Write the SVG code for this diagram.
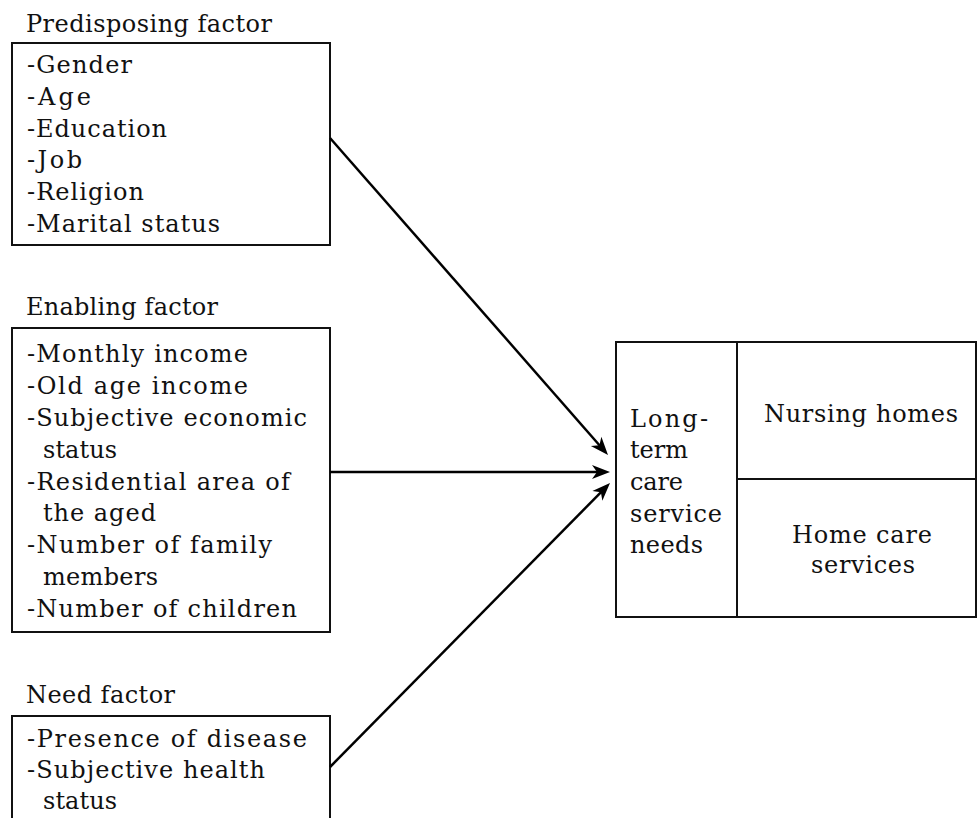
<svg xmlns="http://www.w3.org/2000/svg" width="977" height="818" viewBox="0 0 977 818">
<style>
  text { font-family: "DejaVu Serif", "Liberation Serif", serif; font-size: 24px; fill: #111; }
  .box { fill: #fff; stroke: #111; stroke-width: 2; }
  .div { stroke: #111; stroke-width: 2; fill: none; }
  .conn { stroke: #000; stroke-width: 2.5; fill: none; marker-end: url(#arr); }
</style>
<defs>
  <marker id="arr" markerUnits="userSpaceOnUse" markerWidth="22" markerHeight="16" refX="13" refY="7" orient="auto" overflow="visible">
    <path d="M0,0 L18,7 L0,14 L5,7 Z" fill="#000"/>
  </marker>
</defs>
<rect width="977" height="818" fill="#fff"/>

<g id="predisposing">
  <text x="26" y="32" textLength="246" lengthAdjust="spacing">Predisposing factor</text>
  <rect class="box" x="12" y="43" width="318" height="202"/>
  <text x="27" y="73" textLength="105" lengthAdjust="spacing">-Gender</text>
  <text x="27" y="105" textLength="64" lengthAdjust="spacing">-Age</text>
  <text x="27" y="137" textLength="140" lengthAdjust="spacing">-Education</text>
  <text x="27" y="168" textLength="55" lengthAdjust="spacing">-Job</text>
  <text x="27" y="200" textLength="117" lengthAdjust="spacing">-Religion</text>
  <text x="27" y="232" textLength="193" lengthAdjust="spacing">-Marital status</text>
</g>

<g id="enabling">
  <text x="26" y="315" textLength="192" lengthAdjust="spacing">Enabling factor</text>
  <rect class="box" x="12" y="328" width="318" height="304"/>
  <text x="27" y="362" textLength="221" lengthAdjust="spacing">-Monthly income</text>
  <text x="27" y="394" textLength="221" lengthAdjust="spacing">-Old age income</text>
  <text x="27" y="426" textLength="280" lengthAdjust="spacing">-Subjective economic</text>
  <text x="43" y="458" textLength="74" lengthAdjust="spacing">status</text>
  <text x="27" y="490" textLength="263" lengthAdjust="spacing">-Residential area of</text>
  <text x="43" y="521" textLength="113" lengthAdjust="spacing">the aged</text>
  <text x="27" y="553" textLength="245" lengthAdjust="spacing">-Number of family</text>
  <text x="43" y="585" textLength="115" lengthAdjust="spacing">members</text>
  <text x="27" y="617" textLength="270" lengthAdjust="spacing">-Number of children</text>
</g>

<g id="need">
  <text x="26" y="703" textLength="149" lengthAdjust="spacing">Need factor</text>
  <rect class="box" x="12" y="716" width="318" height="130"/>
  <text x="27" y="747" textLength="280" lengthAdjust="spacing">-Presence of disease</text>
  <text x="27" y="778" textLength="238" lengthAdjust="spacing">-Subjective health</text>
  <text x="43" y="809" textLength="74" lengthAdjust="spacing">status</text>
</g>

<g id="ltc-needs">
  <rect class="box" x="616" y="342" width="360" height="275"/>
  <line class="div" x1="737" y1="342" x2="737" y2="617"/>
  <line class="div" x1="737" y1="479" x2="976" y2="479"/>
  <text x="630" y="427" textLength="78" lengthAdjust="spacing">Long-</text>
  <text x="630" y="458" textLength="58" lengthAdjust="spacing">term</text>
  <text x="630" y="490" textLength="53" lengthAdjust="spacing">care</text>
  <text x="630" y="522" textLength="92" lengthAdjust="spacing">service</text>
  <text x="630" y="553" textLength="73" lengthAdjust="spacing">needs</text>
</g>

<g id="nursing-homes">
  <text x="861" y="422" text-anchor="middle" textLength="194" lengthAdjust="spacing">Nursing homes</text>
</g>

<g id="home-care">
  <text x="862" y="543" text-anchor="middle" textLength="140" lengthAdjust="spacing">Home care</text>
  <text x="863" y="573" text-anchor="middle" textLength="104" lengthAdjust="spacing">services</text>
</g>

<g id="connectors">
  <line class="conn" x1="330" y1="138" x2="604.7" y2="451.2"/>
  <line class="conn" x1="330" y1="472" x2="605" y2="472"/>
  <line class="conn" x1="330" y1="767" x2="606.5" y2="486.6"/>
</g>
</svg>
